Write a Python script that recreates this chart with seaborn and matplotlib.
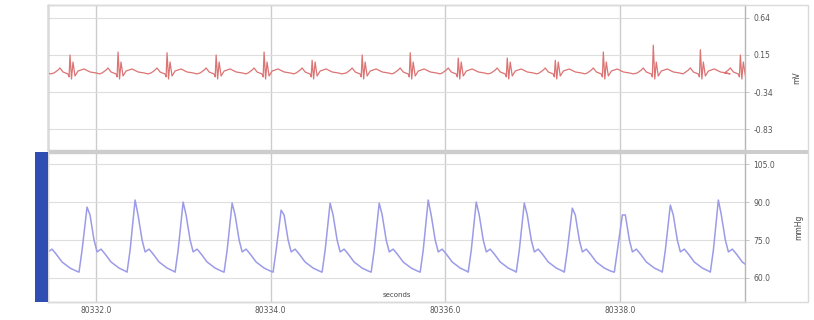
import numpy as np
import pandas as pd
import matplotlib
matplotlib.use('Agg')
import matplotlib.pyplot as plt
import seaborn as sns
from matplotlib.patches import Rectangle

# ECG beat shape: offset from R wave (s) and value (mV); R value comes from ecg_r_mv
ecg_shape_t = [-0.183, -0.137, -0.115, -0.080, -0.023, -0.011, 0.0, 0.017, 0.034, 0.057, 0.092, 0.160, 0.230, 0.300, 0.340]
ecg_shape_mv = [-0.088, -0.049, -0.022, -0.075, -0.102, -0.140, 0.15, -0.168, 0.057, -0.128, -0.062, -0.035, -0.075, -0.088, -0.100]
ecg_r_time = [80331.141, 80331.702, 80332.252, 80332.813, 80333.375, 80333.924, 80334.474, 80335.047,
              80335.597, 80336.147, 80336.708, 80337.258, 80337.808, 80338.380, 80338.919, 80339.377]
ecg_r_mv = [0.16, 0.15, 0.19, 0.18, 0.15, 0.19, 0.08, 0.15, 0.18, 0.11, 0.11, 0.08, 0.19, 0.28, 0.22, 0.15]

# arterial pressure beat shape: offset from systolic peak (s) and value (mmHg)
bp_shape_t = [-0.092, -0.057, 0.0, 0.034, 0.080, 0.115, 0.160, 0.206, 0.275, 0.367, 0.440]
bp_shape_mmhg = [62.3, 71.0, 90.0, 84.9, 75.0, 70.3, 71.4, 69.5, 66.3, 63.9, 62.7]
bp_peak_time = [80331.336, 80331.897, 80332.447, 80332.997, 80333.558, 80334.119, 80334.680, 80335.242,
                80335.803, 80336.353, 80336.903, 80337.453, 80338.026, 80338.575, 80339.125]
bp_peak_mmhg = [88.8, 88.0, 90.8, 90.0, 89.6, 86.8, 89.6, 89.6, 90.8, 90.0, 89.6, 87.6, 84.9, 88.8, 90.8]

x_ticks = [80332.0, 80334.0, 80336.0, 80338.0]
ecg_ticks = [0.64, 0.15, -0.34, -0.83]
bp_ticks = [105.0, 90.0, 75.0, 60.0]


def build_trace(times, peaks, shape_t, shape_v, col):
    rows = []
    for t0, pk in zip(times, peaks):
        for dt, v in zip(shape_t, shape_v):
            rows.append((t0 + dt, pk if dt == 0 else v))
    return pd.DataFrame(rows, columns=['t', col])


ecg = build_trace(ecg_r_time, ecg_r_mv, ecg_shape_t, ecg_shape_mv, 'mV')
bp = build_trace(bp_peak_time, bp_peak_mmhg, bp_shape_t, bp_shape_mmhg, 'mmHg')

sns.set_style('white')
W, H = 814, 320
fig = plt.figure(figsize=(W / 100, H / 100), dpi=100)
L, R = 48, 745
ax1 = fig.add_axes([L / W, 1 - 150 / H, (R - L) / W, (150 - 5) / H])
ax2 = fig.add_axes([L / W, 1 - 302 / H, (R - L) / W, (302 - 153) / H], sharex=ax1)

sns.lineplot(data=ecg, x='t', y='mV', ax=ax1, color='#dc7474', lw=0.9, sort=False, estimator=None)
sns.lineplot(data=bp, x='t', y='mmHg', ax=ax2, color='#9b9be8', lw=1.1, sort=False, estimator=None)

ax1.set_xlim(80331.45, 80339.43)
ax1.set_ylim(-1.108, 0.812)
ax2.set_ylim(50.5, 109.4)

for ax, ticks, lab, fmt in [(ax1, ecg_ticks, 'mV', '{:.2f}'), (ax2, bp_ticks, 'mmHg', '{:.1f}')]:
    ax.yaxis.tick_right()
    ax.set_yticks(ticks)
    ax.set_yticklabels([fmt.format(v) for v in ticks], fontsize=5.5, color='#555555')
    ax.yaxis.set_label_position('right')
    ax.set_ylabel(lab, fontsize=5.5, color='#444444', labelpad=14)
    ax.set_xticks(x_ticks)
    ax.grid(True, axis='y', color='#dedede', lw=0.8)
    ax.grid(True, axis='x', color='#cccccc', lw=1.0)
    ax.tick_params(axis='y', length=3, width=0.6, color='#bbbbbb', pad=3)
    for s in ax.spines.values():
        s.set_color('#cfcfcf')
        s.set_linewidth(1.0)
    ax.spines['right'].set_color('#b5b5b5')

ax1.spines['left'].set_color('#c05a5a')
ax1.tick_params(axis='x', length=0, labelbottom=False)
ax1.set_xlabel('')
ax2.set_xticklabels(['{:.1f}'.format(v) for v in x_ticks], fontsize=5.5, color='#555555')
ax2.tick_params(axis='x', length=0, pad=3)
ax2.set_xlabel('')
ax2.text(0.5, 0.025, 'seconds', transform=ax2.transAxes, ha='center', va='bottom', fontsize=5, color='#444444')

# panel separator, outer frame and selection bar
fig.patches.append(Rectangle((L / W, 1 - 153.5 / H), (808 - L) / W, 4 / H, transform=fig.transFigure,
                             facecolor='#cdcdcd', edgecolor='none'))
fig.patches.append(Rectangle((L / W, 1 - 302 / H), (808 - L) / W, (302 - 5) / H, transform=fig.transFigure,
                             facecolor='none', edgecolor='#dadada', lw=1.0))
fig.patches.append(Rectangle((35 / W, 1 - 302 / H), 13 / W, (302 - 152) / H, transform=fig.transFigure,
                             facecolor='#2f4db3', edgecolor='none'))

fig.savefig('out.png', dpi=100)
